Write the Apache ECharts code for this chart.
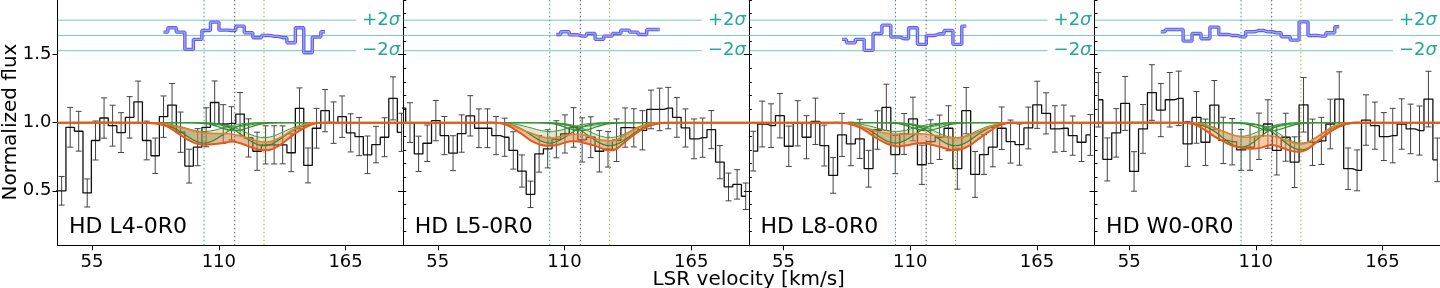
<!DOCTYPE html>
<html><head><meta charset="utf-8">
<script src="https://cdn.jsdelivr.net/npm/echarts@6/dist/echarts.min.js"></script>
<style>html,body{margin:0;padding:0;background:#fff}#c{width:1440px;height:288px}</style>
</head><body><div id="c"></div>
<script>
// ---------- labels & ticks ----------
const panelNames = ['HD L4-0R0', 'HD L5-0R0', 'HD L8-0R0', 'HD W0-0R0'];
const xMajorTicks = [55, 110, 165];
const xMinorTicks = [44, 49.5, 55, 60.5, 66, 71.5, 77, 82.5, 88, 93.5, 99, 104.5, 110, 115.5, 121, 126.5, 132, 137.5, 143, 148.5, 154, 159.5, 165, 170.5, 176, 181.5, 187];
const yMajorTicks = [0.5, 1.0, 1.5];
const compVel = [103.6, 116.9, 129.6];
const resBase = 1.64, resSigma = 0.056;

// ---------- panel 1 (L4-0R0) ----------
const p1Vel = [38.1, 41.8, 45.5, 49.2, 52.9, 56.5, 60.2, 63.9, 67.6, 71.3, 75.0, 78.7, 82.4, 86.0, 89.7, 93.4, 97.1, 100.8, 104.5, 108.2, 111.9, 115.5, 119.2, 122.9, 126.6, 130.3, 134.0, 137.7, 141.4, 145.0, 148.7, 152.4, 156.1, 159.8, 163.5, 167.2, 170.9, 174.5, 178.2, 181.9, 185.6, 189.3];
const p1Flux = [0.50, 0.50, 0.966, 0.937, 0.484, 0.869, 1.034, 0.978, 0.927, 1.039, 1.153, 0.869, 0.757, 1.044, 1.129, 0.930, 0.681, 0.820, 0.966, 1.148, 0.99, 0.995, 1.063, 0.888, 0.79, 0.837, 0.837, 0.837, 0.779, 1.105, 0.686, 0.959, 1.088, 1.0, 1.044, 0.925, 0.898, 0.764, 0.839, 0.893, 1.178, 0.929];
const p1Err = [null, 0.105, 0.146, 0.146, 0.103, 0.143, 0.148, 0.15, 0.146, 0.152, 0.152, 0.142, 0.13, 0.152, 0.158, 0.148, 0.124, 0.136, 0.143, 0.158, 0.142, 0.122, 0.158, 0.14, 0.14, 0.14, 0.14, 0.139, 0.139, 0.15, 0.128, 0.146, 0.155, 0.152, 0.152, 0.14, 0.14, 0.138, 0.134, 0.143, 0.158, 0.14];
const p1ResStart = 13;
const p1Res = [0.43, 1.0, 0.43, -1.83, -0.52, 0.65, 1.74, 0.7, 0.65, 1.22, 0.35, -0.3, 0, -0.13, -0.3, -0.96, 1.0, -2.26, -0.22, 0.48];

// ---------- panel 2 (L5-0R0) ----------
const p2Vel = [39.2, 42.95, 46.69, 50.42, 54.16, 57.89, 61.63, 65.36, 69.10, 72.83, 76.57, 80.30, 84.04, 87.77, 91.51, 95.24, 98.98, 102.71, 106.45, 110.18, 113.92, 117.65, 121.39, 125.12, 128.86, 132.59, 136.33, 140.06, 143.80, 147.53, 151.27, 155.00, 158.74, 162.47, 166.21, 169.94, 173.68, 177.41, 181.15, 184.88, 188.62];
const p2Flux = [1.107, 1.0, 0.771, 0.849, 1.015, 0.905, 0.776, 0.92, 1.05, 0.959, 0.959, 0.905, 0.893, 0.796, 0.645, 0.474, 0.771, 0.808, 0.878, 0.917, 0.965, 0.873, 0.893, 0.79, 0.805, 0.871, 0.964, 0.962, 0.944, 1.097, 1.097, 1.107, 1.039, 0.961, 0.881, 0.89, 0.949, 0.71, 0.528, 0.547, 0.46];
const p2Err = [null, 0.146, 0.13, 0.134, 0.148, 0.14, 0.128, 0.137, 0.148, 0.142, 0.142, 0.14, 0.14, 0.137, 0.118, 0.097, 0.134, 0.14, 0.136, 0.14, 0.145, 0.162, 0.15, 0.152, 0.131, 0.156, 0.144, 0.14, 0.144, 0.142, 0.156, 0.152, 0.146, 0.14, 0.146, 0.144, 0.14, 0.122, 0.102, 0.108, 0.097];
const p2ResStart = 18;
const p2Res = [0.13, 0.48, 0.09, -0.09, 0.26, -0.52, -0.09, 0.26, 0.70, 0.43, 0.13, 0.78, 0.78];

// ---------- panel 3 (L8-0R0) ----------
const p3Vel = [41.9, 45.75, 49.6, 53.45, 57.3, 61.15, 65.0, 68.85, 72.7, 76.55, 80.4, 84.25, 88.1, 91.95, 95.8, 99.65, 103.5, 107.35, 111.2, 115.05, 118.9, 122.75, 126.6, 130.45, 134.3, 138.15, 142.0, 145.85, 149.7, 153.55, 157.4, 161.25, 165.1, 168.95, 172.8, 176.65, 180.5, 184.35, 188.2];
const p3Flux = [0.791, 0.990, 0.978, 1.051, 0.827, 0.995, 0.893, 1.010, 0.832, 0.613, 0.910, 0.844, 0.881, 0.662, 0.946, 1.112, 0.766, 0.917, 1.027, 0.691, 0.861, 0.893, 0.959, 0.662, 1.088, 0.620, 0.766, 0.820, 0.959, 0.861, 0.839, 0.961, 1.131, 1.068, 0.954, 0.959, 0.905, 0.856, 0.910];
const p3Err = [0.146, 0.168, 0.16, 0.163, 0.148, 0.166, 0.158, 0.17, 0.15, 0.131, 0.158, 0.16, 0.144, 0.135, 0.141, 0.17, 0.14, 0.15, 0.16, 0.144, 0.16, 0.163, 0.165, 0.15, 0.17, 0.168, 0.146, 0.144, 0.156, 0.158, 0.151, 0.153, 0.173, 0.151, 0.17, 0.17, 0.144, 0.141, 0.15];
const p3ResStart = 10;
const p3Res = [-0.52, -0.96, -0.52, -1.96, 0.26, 1.35, -0.22, -0.43, 1.0, -1.17, 0, 0.22, 0.65, -1.17, 1.22];

// ---------- panel 4 (W0-0R0) ----------
const p4Vel = [41.64, 45.51, 49.39, 53.26, 57.14, 61.01, 64.88, 68.76, 72.63, 76.51, 80.38, 84.25, 88.13, 92.00, 95.88, 99.75, 103.62, 107.50, 111.37, 115.25, 119.12, 122.99, 126.87, 130.74, 134.62, 138.49, 142.36, 146.24, 150.11, 153.99, 157.86, 161.73, 165.61, 169.48, 173.36, 177.23, 181.10, 184.98, 188.85];
const p4Flux = [1.168, 0.730, 0.925, 1.141, 0.642, 0.954, 1.221, 1.092, 1.168, 1.178, 0.844, 1.039, 0.856, 1.129, 0.87, 0.86, 0.80, 0.82, 0.90, 0.99, 0.796, 0.893, 0.71, 1.131, 0.856, 0.866, 0.99, 1.173, 0.662, 0.650, 1.019, 0.978, 0.898, 0.905, 0.99, 0.954, 0.942, 1.173, 0.727];
const p4Err = [0.2, 0.158, 0.178, 0.198, 0.145, 0.179, 0.204, 0.195, 0.2, 0.2, 0.165, 0.19, 0.17, 0.18, 0.17, 0.17, 0.15, 0.17, 0.17, 0.178, 0.18, 0.176, 0.186, 0.2, 0.17, 0.173, 0.182, 0.2, 0.152, 0.15, 0.185, 0.173, 0.176, 0.2, 0.185, 0.182, 0.18, 0.204, 0.16];
const p4ResStart = 7;
const p4Res = [0.48, 0.78, 0.78, -0.74, 0.26, -0.43, 1.09, 0.13, 0, -0.17, 0.48, 0.65, 0.48, 0.35, -0.17, -0.61, 1.78, 0, -0.09, 0.35, 1.13];

// ---------- model curves (shared velocity grid) ----------
const modelVel = [40, 76, 80, 84, 88, 92, 96, 100, 104, 108, 112, 116, 120, 124, 128, 132, 136, 140, 144, 148, 152, 156, 160, 190];
// total model envelope (orange)
const p1ModelLo = [1, 1, 0.998, 0.99, 0.97, 0.925, 0.88, 0.848, 0.838, 0.843, 0.852, 0.862, 0.845, 0.82, 0.80, 0.80, 0.83, 0.88, 0.93, 0.97, 0.995, 1, 1, 1];
const p1ModelHi = [1, 1, 1, 0.995, 0.985, 0.97, 0.955, 0.935, 0.925, 0.92, 0.92, 0.915, 0.90, 0.88, 0.86, 0.86, 0.885, 0.925, 0.965, 0.99, 1, 1, 1, 1];
const p2ModelLo = [1, 1, 1, 0.99, 0.955, 0.91, 0.862, 0.836, 0.83, 0.842, 0.862, 0.862, 0.845, 0.826, 0.80, 0.803, 0.855, 0.91, 0.955, 0.984, 0.998, 1, 1, 1];
const p2ModelHi = [1, 1, 1, 0.993, 0.975, 0.945, 0.92, 0.897, 0.888, 0.898, 0.912, 0.915, 0.903, 0.88, 0.869, 0.87, 0.908, 0.95, 0.98, 0.995, 1, 1, 1, 1];
const p3ModelLo = [1, 1, 1, 0.99, 0.965, 0.925, 0.88, 0.845, 0.826, 0.832, 0.845, 0.85, 0.835, 0.818, 0.80, 0.805, 0.835, 0.885, 0.932, 0.975, 0.998, 1, 1, 1];
const p3ModelHi = [1, 1, 1, 0.995, 0.975, 0.955, 0.935, 0.922, 0.917, 0.917, 0.917, 0.917, 0.908, 0.897, 0.89, 0.89, 0.91, 0.935, 0.965, 0.99, 1, 1, 1, 1];
const p4ModelLo = [1, 1, 0.997, 0.985, 0.945, 0.9, 0.862, 0.83, 0.814, 0.808, 0.815, 0.835, 0.825, 0.80, 0.787, 0.80, 0.852, 0.905, 0.95, 0.985, 0.999, 1, 1, 1];
const p4ModelHi = [1, 1, 1, 0.997, 0.985, 0.96, 0.935, 0.91, 0.895, 0.893, 0.9, 0.905, 0.89, 0.865, 0.845, 0.85, 0.89, 0.935, 0.975, 0.995, 1, 1, 1, 1];
// individual components (green), panels 1-3
const comp1Lo = [1, 1, 0.998, 0.992, 0.978, 0.948, 0.904, 0.864, 0.85, 0.871, 0.914, 0.955, 0.982, 0.994, 0.999, 1, 1, 1, 1, 1, 1, 1, 1, 1];
const comp1Hi = [1, 1, 0.999, 0.997, 0.99, 0.977, 0.959, 0.941, 0.935, 0.944, 0.963, 0.98, 0.992, 0.997, 1, 1, 1, 1, 1, 1, 1, 1, 1, 1];
const comp2Lo = [1, 1, 1, 1, 1, 1, 1, 0.999, 0.994, 0.98, 0.957, 0.941, 0.948, 0.97, 0.989, 0.997, 1, 1, 1, 1, 1, 1, 1, 1];
const comp2Hi = [1, 1, 1, 1, 1, 1, 1, 1, 0.997, 0.99, 0.979, 0.97, 0.974, 0.985, 0.995, 0.999, 1, 1, 1, 1, 1, 1, 1, 1];
const comp3Lo = [1, 1, 1, 1, 1, 1, 1, 1, 0.998, 0.993, 0.98, 0.953, 0.91, 0.863, 0.833, 0.837, 0.872, 0.92, 0.96, 0.984, 0.995, 0.999, 1, 1];
const comp3Hi = [1, 1, 1, 1, 1, 1, 1, 1, 0.999, 0.996, 0.987, 0.969, 0.942, 0.911, 0.892, 0.894, 0.917, 0.948, 0.974, 0.989, 0.997, 0.999, 1, 1];
// components, panel 4 (deeper)
const p4Comp1Lo = [1, 1, 0.998, 0.991, 0.973, 0.937, 0.885, 0.837, 0.82, 0.845, 0.896, 0.946, 0.978, 0.993, 0.998, 1, 1, 1, 1, 1, 1, 1, 1, 1];
const p4Comp1Hi = [1, 1, 0.999, 0.995, 0.985, 0.965, 0.936, 0.91, 0.9, 0.914, 0.942, 0.97, 0.988, 0.996, 0.999, 1, 1, 1, 1, 1, 1, 1, 1, 1];
const p4Comp3Lo = [1, 1, 1, 1, 1, 1, 1, 1, 0.998, 0.992, 0.977, 0.944, 0.894, 0.839, 0.804, 0.808, 0.849, 0.905, 0.952, 0.981, 0.994, 0.998, 1, 1];
const p4Comp3Hi = [1, 1, 1, 1, 1, 1, 1, 1, 0.998, 0.994, 0.982, 0.958, 0.921, 0.879, 0.853, 0.856, 0.887, 0.929, 0.964, 0.986, 0.995, 0.999, 1, 1];

const sharedComps = [[comp1Lo, comp1Hi], [comp2Lo, comp2Hi], [comp3Lo, comp3Hi]];
const panels = [
  {vel: p1Vel, flux: p1Flux, err: p1Err, resStart: p1ResStart, res: p1Res, lo: p1ModelLo, hi: p1ModelHi, comps: sharedComps, fill: 'rgba(200,135,75,0.55)'},
  {vel: p2Vel, flux: p2Flux, err: p2Err, resStart: p2ResStart, res: p2Res, lo: p2ModelLo, hi: p2ModelHi, comps: sharedComps, fill: 'rgba(210,140,75,0.55)'},
  {vel: p3Vel, flux: p3Flux, err: p3Err, resStart: p3ResStart, res: p3Res, lo: p3ModelLo, hi: p3ModelHi, comps: sharedComps, fill: 'rgba(210,140,75,0.55)'},
  {vel: p4Vel, flux: p4Flux, err: p4Err, resStart: p4ResStart, res: p4Res, lo: p4ModelLo, hi: p4ModelHi, comps: [[p4Comp1Lo, p4Comp1Hi], [comp2Lo, comp2Hi], [p4Comp3Lo, p4Comp3Hi]], fill: 'rgba(240,150,85,0.5)'}
];

// ---------- layout & style ----------
const FONT = 'DejaVu Sans';
const gLeft0 = 57.5, gW = 345.7, gTop = 0, gH = 245.3;
const XMIN = 40, XMAX = 190, YMIN = 0.1, YMAX = 1.9;
const vlineColors = ['#2e9a8c', '#5a5a6a', '#aaa23a'];
const teal = '#22a897';
const SMOOTH = 0.35;
const greenFill = 'rgba(120,165,70,0.25)';

const grid = [], xAxis = [], yAxis = [], series = [];
function errItem(params, api) {
  const p0 = api.coord([api.value(0), api.value(1)]);
  const p1 = api.coord([api.value(0), api.value(2)]);
  const c = 3, st = {stroke: '#444', lineWidth: 1};
  return {type: 'group', children: [
    {type: 'line', shape: {x1: p0[0], y1: p0[1], x2: p1[0], y2: p1[1]}, style: st},
    {type: 'line', shape: {x1: p0[0] - c, y1: p0[1], x2: p0[0] + c, y2: p0[1]}, style: st},
    {type: 'line', shape: {x1: p1[0] - c, y1: p1[1], x2: p1[0] + c, y2: p1[1]}, style: st}
  ]};
}
function modelItem(P) {
  return function (params, api) {
    const pts = vals => modelVel.map((v, k) => api.coord([v, vals[k]]));
    const children = [];
    const band = (lo, hi, fill) => {
      const a = pts(hi), b = pts(lo).slice(1, -1).reverse();
      children.push({type: 'polygon', shape: {points: a.concat(b), smooth: SMOOTH}, style: {fill: fill}});
    };
    const line = (vals, color, w) => children.push({type: 'polyline', shape: {points: pts(vals), smooth: SMOOTH}, style: {stroke: color, lineWidth: w, fill: null}});
    band(P.lo, P.hi, P.fill);
    P.comps.forEach(c => band(c[0], c[1], greenFill));
    P.comps.forEach(c => { line(c[0], '#2c862c', 1.2); line(c[1], '#3c9c3c', 1.0); });
    line(P.hi, '#f07a30', 1.6);
    line(P.lo, '#ee5518', 2);
    return {type: 'group', children};
  };
}
panels.forEach((P, i) => {
  grid.push({left: gLeft0 + i * gW, top: gTop, width: gW, height: gH});
  xAxis.push({type: 'value', gridIndex: i, min: XMIN, max: XMAX,
    axisLine: {onZero: false, lineStyle: {color: '#000', width: 1}},
    axisTick: {customValues: xMajorTicks, length: 5, lineStyle: {color: '#000'}},
    axisLabel: {customValues: xMajorTicks, fontSize: 18, fontFamily: FONT, color: '#000', margin: 8},
    splitLine: {show: false}});
  xAxis.push({type: 'value', gridIndex: i, min: XMIN, max: XMAX,
    axisLine: {show: false, onZero: false},
    axisTick: {customValues: xMinorTicks, length: 3, lineStyle: {color: '#000'}},
    axisLabel: {show: false}, splitLine: {show: false}});
  yAxis.push({type: 'value', gridIndex: i, min: YMIN, max: YMAX,
    axisLine: {show: true, onZero: false, lineStyle: {color: '#000', width: 1}},
    axisTick: {customValues: yMajorTicks, length: 5, lineStyle: {color: '#000'}},
    axisLabel: {show: i === 0, customValues: yMajorTicks, formatter: v => v.toFixed(1), fontSize: 18, fontFamily: FONT, color: '#000', margin: 6},
    splitLine: {show: false}});
  yAxis.push({type: 'value', gridIndex: i, min: YMIN, max: YMAX, interval: 0.1,
    axisLine: {show: false, onZero: false},
    axisTick: {length: 3, lineStyle: {color: '#000'}},
    axisLabel: {show: false}, splitLine: {show: false}});
  const xi = 2 * i, yi = 2 * i;
  const base = {xAxisIndex: xi, yAxisIndex: yi, silent: true, animation: false};
  // residual reference lines
  const lbl = (t) => ({show: true, distance: 6, formatter: '{a|' + t + '}{b|σ}', rich: {a: {fontSize: 18, fontFamily: FONT, color: teal}, b: {fontSize: 18, fontFamily: FONT, fontStyle: 'italic', color: teal}}});
  series.push(Object.assign({type: 'line', data: [[XMIN, resBase], [XMAX, resBase]], symbol: 'none', lineStyle: {color: teal, width: 0.8, opacity: 0.8}, z: 1}, base));
  series.push(Object.assign({type: 'line', data: [[XMIN, resBase + 2 * resSigma], [169.6, resBase + 2 * resSigma]], symbol: 'none', lineStyle: {color: teal, width: 0.8, opacity: 0.8}, z: 1, endLabel: lbl('+2')}, base));
  series.push(Object.assign({type: 'line', data: [[XMIN, resBase - 2 * resSigma], [169.6, resBase - 2 * resSigma]], symbol: 'none', lineStyle: {color: teal, width: 0.8, opacity: 0.8}, z: 1, endLabel: lbl('−2')}, base));
  // residual steps (double-line look)
  const resData = P.res.map((r, k) => [P.vel[P.resStart + k], resBase + r * resSigma]);
  series.push(Object.assign({type: 'line', step: 'middle', data: resData, symbol: 'none', lineStyle: {color: '#5c5cf0', width: 3.4}, z: 3}, base));
  series.push(Object.assign({type: 'line', step: 'middle', data: resData, symbol: 'none', lineStyle: {color: '#a4a4f6', width: 1.3}, z: 3}, base));
  // error bars
  const eData = [];
  P.vel.forEach((v, k) => { if (P.err[k] != null && v >= XMIN && v <= XMAX) eData.push([v, P.flux[k] - P.err[k], P.flux[k] + P.err[k]]); });
  series.push(Object.assign({type: 'custom', renderItem: errItem, data: eData, encode: {x: 0, y: [1, 2]}, clip: true, z: 2}, base));
  // histogram
  series.push(Object.assign({type: 'line', step: 'middle', data: P.vel.map((v, k) => [v, P.flux[k]]), symbol: 'none', lineStyle: {color: '#111', width: 1.3}, z: 3}, base));
  // model (bands + lines)
  series.push(Object.assign({type: 'custom', renderItem: modelItem(P), data: [[XMIN, 1]], encode: {x: 0, y: 1}, clip: true, z: 4}, base));
  // component velocity markers
  compVel.forEach((v, j) => {
    series.push(Object.assign({type: 'line', data: [[v, YMIN], [v, YMAX]], symbol: 'none', lineStyle: {color: vlineColors[j], width: 1, type: [1.5, 2.5]}, z: 8}, base));
  });
});

const graphic = [
  {type: 'text', x: 11, y: 122, rotation: Math.PI / 2, style: {text: 'Normalized flux', font: '20px "DejaVu Sans"', fill: '#000', textAlign: 'center', textVerticalAlign: 'middle'}},
  {type: 'text', x: 748.7, y: 280, style: {text: 'LSR velocity [km/s]', font: '20px "DejaVu Sans"', fill: '#000', textAlign: 'center', textVerticalAlign: 'middle'}}
];
panelNames.forEach((n, i) => {
  graphic.push({type: 'text', x: gLeft0 + i * gW + 11.5, y: 227, style: {text: n, font: '22px "DejaVu Sans"', fill: '#000', textAlign: 'left', textVerticalAlign: 'middle'}, z: 100});
});

const chart = echarts.init(document.getElementById('c'), null, {renderer: 'canvas'});
chart.setOption({animation: false, grid, xAxis, yAxis, series, graphic});
</script></body></html>
